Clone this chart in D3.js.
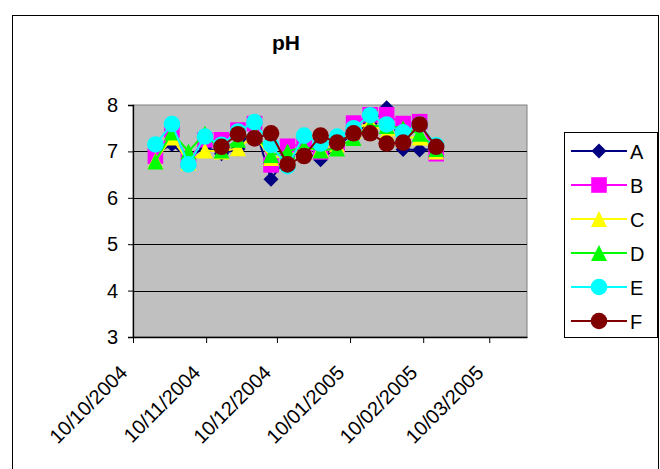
<!DOCTYPE html>
<html>
<head>
<meta charset="utf-8">
<script src="https://cdn.jsdelivr.net/npm/d3@7/dist/d3.min.js"></script>
<style>
  body { margin: 0; background: #fff; }
  text { font-family: Arial, "Liberation Sans", sans-serif; fill: #000; }
</style>
</head>
<body>
<svg id="chart" width="660" height="469"></svg>
<script>
// Weekly sampling dates (dd/mm/yyyy style axis)
const sampleDates = [
  "2004-10-19", "2004-10-26", "2004-11-02", "2004-11-09", "2004-11-16", "2004-11-23",
  "2004-11-30", "2004-12-07", "2004-12-14", "2004-12-21", "2004-12-28", "2005-01-04",
  "2005-01-11", "2005-01-18", "2005-01-25", "2005-02-01", "2005-02-08", "2005-02-15"
];

// pH per sampling site
const phA = [6.95, 7.15, 6.85, 7.10, 6.95, 7.05, 7.55, 6.40, 6.90, 7.00, 6.82, 7.10, 7.40, 7.60, 7.94, 7.04, 7.03, 7.05];
const phB = [6.90, 7.46, 6.82, 7.25, 7.25, 7.46, 7.60, 6.71, 7.11, 7.15, 6.99, 7.15, 7.61, 7.79, 7.79, 7.60, 7.64, 6.95];
const phC = [6.80, 7.30, 6.76, 7.02, 7.00, 7.07, 7.35, 6.86, 6.90, 7.05, 7.05, 7.15, 7.45, 7.63, 7.40, 7.30, 7.30, 7.00];
const phD = [6.78, 7.41, 7.00, 7.38, 7.02, 7.25, 7.40, 6.92, 7.00, 7.10, 7.02, 7.06, 7.29, 7.55, 7.55, 7.50, 7.38, 7.05];
const phE = [7.15, 7.59, 6.72, 7.32, 7.14, 7.43, 7.63, 7.14, 6.68, 7.34, 7.17, 7.32, 7.50, 7.78, 7.58, 7.41, 7.58, 7.13];
const phF = [null, null, null, null, 7.10, 7.37, 7.28, 7.39, 6.72, 6.90, 7.34, 7.19, 7.39, 7.39, 7.17, 7.19, 7.58, 7.10];

const seriesNames = ["A", "B", "C", "D", "E", "F"];
const seriesValues = [phA, phB, phC, phD, phE, phF];
const seriesColors = ["#000080", "#FF00FF", "#FFFF00", "#00FF00", "#00FFFF", "#800000"];
const seriesShapes = ["diamond", "square", "triangle", "triangle", "circle", "circle"];

const yTicks = [3, 4, 5, 6, 7, 8];
const xTickDates = ["2004-10-10", "2004-11-10", "2004-12-10", "2005-01-10", "2005-02-10", "2005-03-10"];
const xDomain = ["2004-10-10", "2005-03-26"];
const chartTitle = "pH";

const parseDay = d3.timeParse("%Y-%m-%d");
const fmtDay = d3.timeFormat("%d/%m/%Y");
// points sit in the middle of their day slot
const atNoon = s => d3.timeHour.offset(parseDay(s), 12);

const svg = d3.select("#chart");

// chart frame
svg.append("rect")
  .attr("x", 12.5).attr("y", 15.5).attr("width", 646).attr("height", 480)
  .attr("fill", "#fff").attr("stroke", "#000").attr("stroke-width", 1);

const plot = { left: 133, top: 105, right: 527, bottom: 337 };

const x = d3.scaleTime()
  .domain(xDomain.map(parseDay))
  .range([plot.left, plot.right]);
const y = d3.scaleLinear()
  .domain([3, 8])
  .range([plot.bottom, plot.top]);

// plot area
svg.append("rect")
  .attr("x", plot.left).attr("y", plot.top)
  .attr("width", plot.right - plot.left).attr("height", plot.bottom - plot.top)
  .attr("fill", "#C0C0C0").attr("stroke", "#808080").attr("stroke-width", 1);

// horizontal gridlines
svg.append("g")
  .selectAll("line")
  .data(yTicks.filter(t => t > 3 && t < 8))
  .join("line")
  .attr("x1", plot.left).attr("x2", plot.right)
  .attr("y1", d => Math.round(y(d)) + 0.5).attr("y2", d => Math.round(y(d)) + 0.5)
  .attr("stroke", "#000").attr("stroke-width", 1);

// y axis
const yAxis = svg.append("g")
  .attr("transform", `translate(${plot.left},0)`)
  .call(d3.axisLeft(y).tickValues(yTicks).tickSize(5).tickPadding(10).tickFormat(d3.format("d")));
yAxis.select(".domain").attr("stroke", "#000").attr("stroke-width", 1.3);
yAxis.selectAll(".tick line").attr("stroke", "#000");
yAxis.selectAll(".tick text")
  .attr("font-size", 20).attr("font-family", "Arial, 'Liberation Sans', sans-serif")
  .attr("fill", "#000");

// x axis
const xAxis = svg.append("g")
  .attr("transform", `translate(0,${plot.bottom})`)
  .call(d3.axisBottom(x).tickValues(xTickDates.map(parseDay)).tickSize(6).tickSizeOuter(0).tickFormat(fmtDay));
xAxis.select(".domain").attr("stroke", "#000").attr("stroke-width", 1.3);
xAxis.selectAll(".tick line").attr("stroke", "#000");
xAxis.selectAll(".tick text")
  .attr("font-size", 20).attr("font-family", "Arial, 'Liberation Sans', sans-serif")
  .attr("fill", "#000")
  .attr("text-anchor", "end")
  .attr("dy", 0)
  .attr("y", 0)
  .attr("transform", "translate(-5,37) rotate(-45)");

// marker drawing
function marker(g, shape, color) {
  if (shape === "diamond") {
    g.append("path").attr("d", "M0,-7.5L7.5,0L0,7.5L-7.5,0Z").attr("fill", color);
  } else if (shape === "square") {
    g.append("rect").attr("x", -7.8).attr("y", -7.8).attr("width", 15.6).attr("height", 15.6).attr("fill", color);
  } else if (shape === "triangle") {
    g.append("path").attr("d", "M0,-8L8,8L-8,8Z").attr("fill", color);
  } else {
    g.append("circle").attr("r", 8.3).attr("fill", color);
  }
}

const line = d3.line()
  .defined(d => d.v !== null)
  .x(d => x(d.t))
  .y(d => y(d.v));

seriesNames.forEach((name, i) => {
  const pts = sampleDates.map((s, j) => ({ t: atNoon(s), v: seriesValues[i][j] }));
  const g = svg.append("g").attr("class", "series-" + name);
  g.append("path")
    .attr("d", line(pts))
    .attr("fill", "none")
    .attr("stroke", seriesColors[i])
    .attr("stroke-width", 2);
  pts.filter(d => d.v !== null).forEach(d => {
    const m = g.append("g").attr("transform", `translate(${x(d.t)},${y(d.v)})`);
    marker(m, seriesShapes[i], seriesColors[i]);
  });
});

// title
svg.append("text")
  .attr("x", 286).attr("y", 50)
  .attr("text-anchor", "middle")
  .attr("font-size", 21).attr("font-weight", "bold")
  .text(chartTitle);

// legend
const legend = svg.append("g");
legend.append("rect")
  .attr("x", 564.5).attr("y", 132.5).attr("width", 93).attr("height", 205)
  .attr("fill", "#fff").attr("stroke", "#000").attr("stroke-width", 1);
seriesNames.forEach((name, i) => {
  const cy = 151 + i * 34;
  const item = legend.append("g");
  item.append("line")
    .attr("x1", 571).attr("x2", 627).attr("y1", cy).attr("y2", cy)
    .attr("stroke", seriesColors[i]).attr("stroke-width", 2);
  const m = item.append("g").attr("transform", `translate(599,${cy})`);
  marker(m, seriesShapes[i], seriesColors[i]);
  item.append("text")
    .attr("x", 630).attr("y", cy + 7.5)
    .attr("font-size", 20)
    .text(name);
});
</script>
</body>
</html>
